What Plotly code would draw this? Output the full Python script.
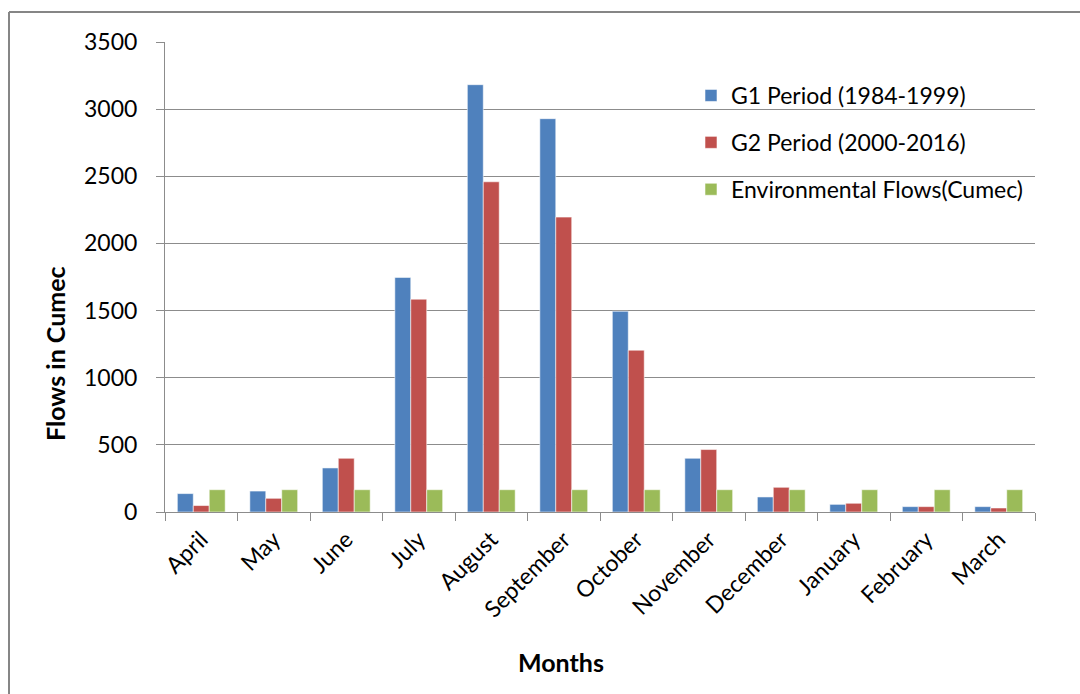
import plotly.graph_objects as go

# Monthly flows (cumec)
months = ["April", "May", "June", "July", "August", "September",
          "October", "November", "December", "January", "February", "March"]
g1_flows = [137, 156, 328, 1747, 3182, 2929, 1495, 400, 112, 57, 40, 40]
g2_flows = [48, 102, 400, 1585, 2459, 2196, 1205, 465, 184, 65, 40, 30]
env_flows = [166, 166, 166, 166, 166, 166, 166, 166, 166, 166, 166, 166]

series_names = ["G1 Period (1984-1999)", "G2 Period (2000-2016)",
                "Environmental Flows(Cumec)"]
series_colors = ["#4F81BD", "#C0504D", "#9BBB59"]
y_ticks = [0, 500, 1000, 1500, 2000, 2500, 3000, 3500]

FONT = "Lato, 'Open Sans', sans-serif"
GRID = "#8c8c8c"

fig = go.Figure()
for name, vals, col in zip(series_names, [g1_flows, g2_flows, env_flows], series_colors):
    fig.add_trace(go.Bar(
        x=months, y=vals, name=name, legendgroup=name,
        marker=dict(color=col, line=dict(color="rgba(255,255,255,0.55)", width=1)),
    ))

# Plot-area geometry (pixels) used to place the frame, legend and titles
W, H = 1080, 694
L, R, T, B = 165, 45, 42, 182
pw, ph = W - L - R, H - T - B


def px_x(x):
    return (x - L) / pw


def px_y(y):
    return (H - B - y) / ph


fig.update_layout(
    width=W, height=H,
    margin=dict(l=L, r=R, t=T, b=B, autoexpand=False),
    paper_bgcolor="white", plot_bgcolor="white",
    font=dict(family=FONT, size=23, color="#000000"),
    barmode="group", bargap=0.34, bargroupgap=0,
    showlegend=True,
    legend=dict(
        x=px_x(691), y=px_y(74), xanchor="left", yanchor="top",
        bgcolor="rgba(0,0,0,0)", font=dict(family=FONT, size=23, color="#000000"),
        tracegroupgap=14, itemwidth=30,
    ),
    xaxis=dict(
        type="category", tickangle=-45, tickson="boundaries",
        ticks="outside", ticklen=8, tickcolor=GRID,
        showline=True, linecolor=GRID, linewidth=1,
        showgrid=False, tickfont=dict(family=FONT, size=23), ticklabelstandoff=4,
        automargin=False,
    ),
    yaxis=dict(
        range=[0, 3500], tickvals=y_ticks, ticks="outside", ticklen=8, tickcolor=GRID,
        showline=True, linecolor=GRID, linewidth=1,
        showgrid=True, gridcolor=GRID, gridwidth=1, zeroline=False,
        tickfont=dict(family=FONT, size=23), ticklabelstandoff=14,
        automargin=False,
    ),
    annotations=[
        dict(text="<b>Flows in Cumec</b>", xref="paper", yref="paper",
             x=px_x(55), y=px_y(353), xanchor="center", yanchor="middle",
             textangle=-90, showarrow=False, font=dict(family=FONT, size=25)),
        dict(text="<b>Months</b>", xref="paper", yref="paper",
             x=px_x(561), y=px_y(662), xanchor="center", yanchor="middle",
             showarrow=False, font=dict(family=FONT, size=25)),
    ],
    shapes=[
        # outer chart frame (top and left edges)
        dict(type="line", xref="paper", yref="paper",
             x0=px_x(9), x1=px_x(1100), y0=px_y(12), y1=px_y(12),
             line=dict(color="#868686", width=2)),
        dict(type="line", xref="paper", yref="paper",
             x0=px_x(9), x1=px_x(9), y0=px_y(12), y1=px_y(720),
             line=dict(color="#868686", width=2)),
    ],
)

fig.write_html("out.html")
